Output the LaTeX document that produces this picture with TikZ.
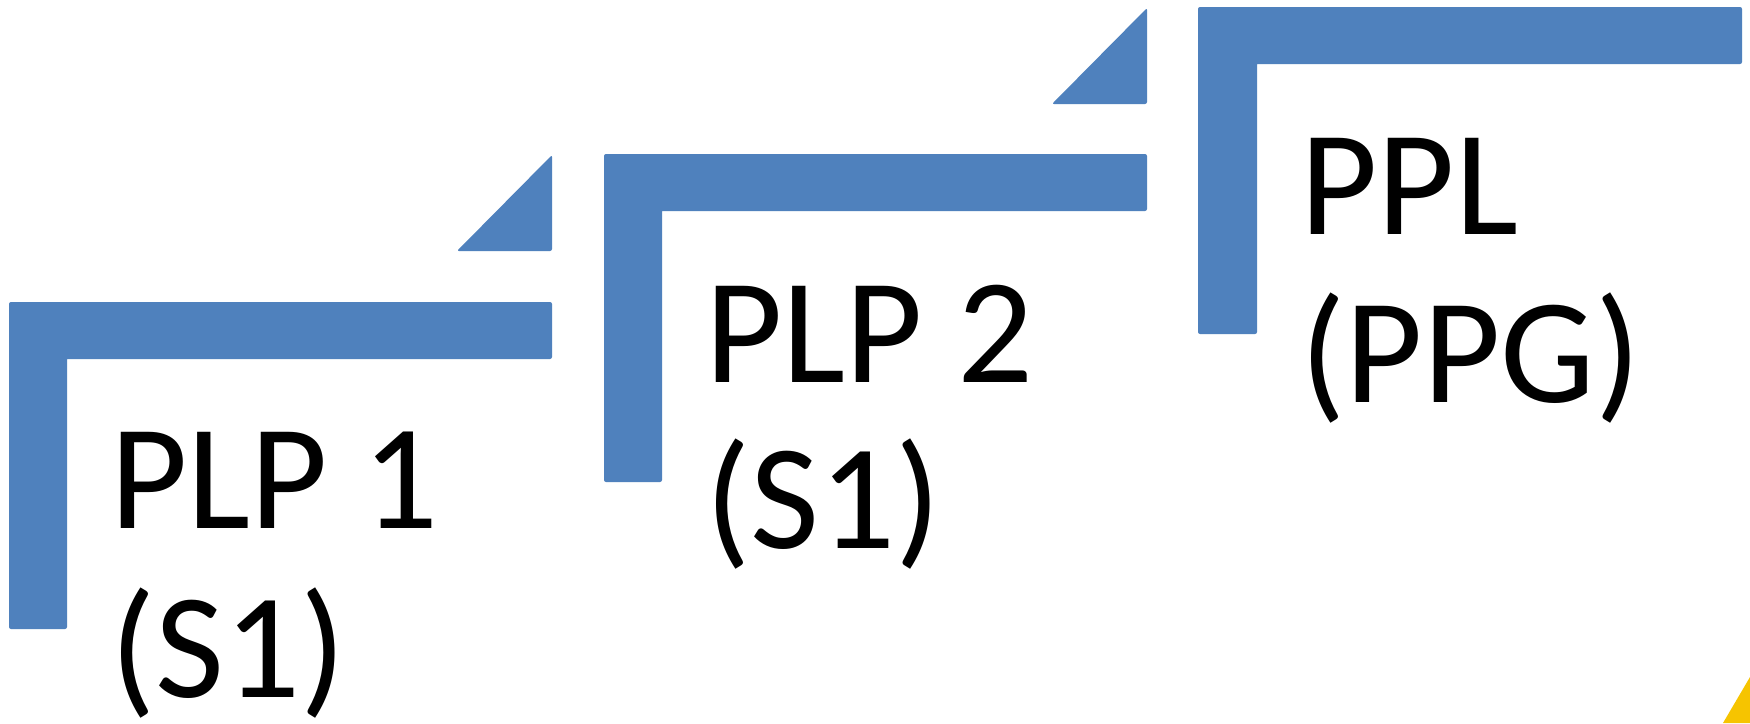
\documentclass[tikz,border=0pt]{standalone}
\usepackage{fontspec}
\setmainfont{Carlito}
\definecolor{stepblue}{RGB}{79,129,189}
\definecolor{accentyellow}{RGB}{246,196,0}
\begin{document}
\begin{tikzpicture}[x=1pt,y=-1pt,
  framefill/.style={fill=stepblue},
  lbl/.style={anchor=base west, inner sep=0pt, font=\fontsize{150}{169}\selectfont}]
\useasboundingbox (0,0) rectangle (1750,723);
\fill[white] (0,0) rectangle (1750,723);
% step 1
\fill[framefill] (9,629) [rounded corners=2pt] -- (9,302) -- (552,302) -- (552,359) [sharp corners] -- (67,359) [rounded corners=2pt] -- (67,629) -- cycle;
\fill[framefill] (552,251) [rounded corners=2pt] -- (457,251) -- (552,155) -- cycle;
% step 2
\fill[framefill] (604,482) [rounded corners=2pt] -- (604,154) -- (1147,154) -- (1147,211) [sharp corners] -- (662,211) [rounded corners=2pt] -- (662,482) -- cycle;
\fill[framefill] (1147,104) [rounded corners=2pt] -- (1052,104) -- (1147,8) -- cycle;
% step 3
\fill[framefill] (1198,334) [rounded corners=2pt] -- (1198,7) -- (1742,7) -- (1742,64) [sharp corners] -- (1257,64) [rounded corners=2pt] -- (1257,334) -- cycle;
% corner accent
\fill[accentyellow] (1723,723) -- (1750,677) -- (1750,723) -- cycle;
% labels
\node[lbl] (plp1) at (110,528) {PLP 1};
\node[lbl] (plp1s) at (110,697) {(S1)};
\node[lbl] (plp2) at (705,382) {PLP 2};
\node[lbl] (plp2s) at (705,548) {(S1)};
\node[lbl] (ppl) at (1300,234) {PPL};
\node[lbl] (pplg) at (1300,402) {(PPG)};
\end{tikzpicture}
\end{document}
